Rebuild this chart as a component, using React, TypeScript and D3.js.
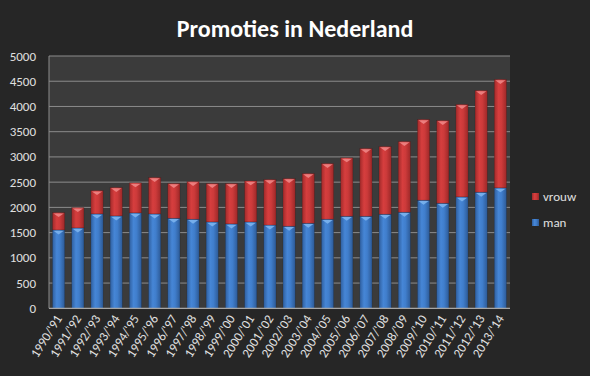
import React from "react";
import * as d3 from "d3";

const categories = [
  "1990/'91", "1991/'92", "1992/'93", "1993/'94", "1994/'95", "1995/'96",
  "1996/'97", "1997/'98", "1998/'99", "1999/'00", "2000/'01", "2001/'02",
  "2002/'03", "2003/'04", "2004/'05", "2005/'06", "2006/'07", "2007/'08",
  "2008/'09", "2009/'10", "2010/'11", "2011/'12", "2012/'13", "2013/'14",
];
const man = [
  1553, 1593, 1871, 1831, 1891, 1871, 1785, 1766, 1712, 1673, 1712, 1650,
  1627, 1686, 1766, 1825, 1825, 1865, 1905, 2143, 2083, 2208, 2302, 2387,
];
const totals = [
  1897, 1996, 2333, 2393, 2486, 2592, 2473, 2512, 2473, 2473, 2526, 2552,
  2571, 2671, 2869, 2982, 3167, 3206, 3306, 3742, 3722, 4040, 4317, 4536,
];
const yTicks = [0, 500, 1000, 1500, 2000, 2500, 3000, 3500, 4000, 4500, 5000];
const seriesNames = ["vrouw", "man"];

const W = 590, H = 376;
const left = 49, right = 510, top = 56, bottom = 308.3;

export default function App() {
  const x = d3.scaleBand<string>().domain(categories).range([left, right]).paddingInner(0.36).paddingOuter(0.18);
  const y = d3.scaleLinear().domain([0, 5000]).range([bottom, top]);
  const bw = x.bandwidth();
  const font = "Calibri, Carlito, Lato, 'Open Sans', sans-serif";

  const seg = (cx: number, y0: number, y1: number, fill: string, tri: string, key: string) => {
    const h = y0 - y1;
    return (
      <g key={key}>
        <rect x={cx} y={y1} width={bw} height={h} fill={fill} stroke="rgba(0,0,0,0.25)" strokeWidth={0.6} />
        <path d={`M${cx + 1},${y1 + 0.8} L${cx + bw - 1},${y1 + 0.8} L${cx + bw / 2},${y1 + 4.5} Z`} fill={tri} opacity={0.85} />
      </g>
    );
  };

  return (
    <svg width={W} height={H} style={{ position: "absolute", left: 0, top: 0, display: "block" }}>
      <defs>
        <linearGradient id="gBlue" x1="0" x2="1" y1="0" y2="0">
          <stop offset="0" stopColor="#2f5f9f" />
          <stop offset="0.35" stopColor="#4686d6" />
          <stop offset="0.6" stopColor="#407ecc" />
          <stop offset="1" stopColor="#2d5a96" />
        </linearGradient>
        <linearGradient id="gRed" x1="0" x2="1" y1="0" y2="0">
          <stop offset="0" stopColor="#a12a2a" />
          <stop offset="0.35" stopColor="#d63e3e" />
          <stop offset="0.6" stopColor="#cc3a3a" />
          <stop offset="1" stopColor="#9c2828" />
        </linearGradient>
      </defs>
      <rect x={0} y={0} width={W} height={H} fill="#262626" />
      <rect x={left} y={top} width={right - left} height={bottom - top} fill="#3b3b3b" />
      {yTicks.map((t) => (
        <g key={t}>
          {t > 0 && <line x1={left} x2={right} y1={y(t)} y2={y(t)} stroke="#8c8c8c" strokeWidth={1} />}
          <text x={36} y={y(t) + 4.5} textAnchor="end" fontSize={13} fill="#e0e0e0" fontFamily={font}>{t}</text>
        </g>
      ))}
      <line x1={left} x2={left} y1={top} y2={bottom} stroke="#8c8c8c" strokeWidth={1} />
      {categories.map((c, i) => {
        const cx = x(c)!;
        return (
          <g key={c}>
            {seg(cx, y(0), y(man[i]), "url(#gBlue)", "#7fb6f0", c + "m")}
            {seg(cx, y(man[i]), y(totals[i]), "url(#gRed)", "#f08a8a", c + "v")}
          </g>
        );
      })}
      <line x1={left} x2={right} y1={bottom} y2={bottom} stroke="#a6a6a6" strokeWidth={1.2} />
      {categories.map((c) => {
        const cx = x(c)! + bw / 2 + 4;
        return (
          <text key={c} transform={`translate(${cx},${bottom + 10}) rotate(-58)`} textAnchor="end" fontSize={13} fill="#e0e0e0" fontFamily={font}>{c}</text>
        );
      })}
      <text x={295} y={37} textAnchor="middle" fontSize={24} fontWeight="bold" fill="#ffffff" fontFamily={font}>Promoties in Nederland</text>
      {seriesNames.map((s, i) => (
        <g key={s}>
          <rect x={532} y={193 + i * 26} width={7} height={7} fill={i === 0 ? "url(#gRed)" : "url(#gBlue)"} />
          <text x={543} y={201 + i * 26} fontSize={13} fill="#e0e0e0" fontFamily={font}>{s}</text>
        </g>
      ))}
    </svg>
  );
}
